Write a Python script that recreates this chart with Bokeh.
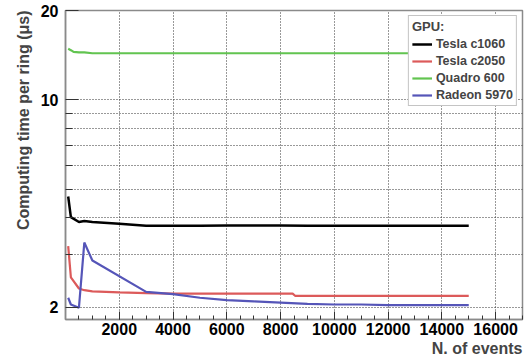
from bokeh.plotting import figure
from bokeh.models import Range1d, FixedTicker, Legend, LegendItem, Title
from bokeh.embed import file_html
from bokeh.resources import INLINE

# ---- data ----
x_c1060 = [100, 200, 500, 700, 1000, 2000, 3000, 4000, 5000, 6000, 7000, 8000, 9000, 10000, 11000, 12000, 13000, 14000, 15000]
y_c1060 = [4.72, 4.02, 3.87, 3.90, 3.87, 3.82, 3.76, 3.76, 3.76, 3.77, 3.77, 3.77, 3.76, 3.76, 3.76, 3.76, 3.76, 3.76, 3.76]

x_c2050 = [100, 200, 500, 700, 1000, 2000, 3000, 4000, 5000, 6000, 7000, 8000, 8450, 8550, 9000, 10000, 11000, 12000, 13000, 14000, 15000]
y_c2050 = [3.21, 2.52, 2.31, 2.28, 2.26, 2.24, 2.23, 2.22, 2.22, 2.22, 2.22, 2.22, 2.22, 2.18, 2.18, 2.18, 2.18, 2.18, 2.18, 2.18, 2.18]

x_q600 = [100, 200, 300, 500, 700, 1000, 2000, 3000, 4000, 5000, 6000, 7000, 8000, 9000, 10000, 11000, 12000, 13000, 14000, 15000]
y_q600 = [14.86, 14.70, 14.50, 14.45, 14.45, 14.35, 14.35, 14.35, 14.35, 14.35, 14.35, 14.35, 14.35, 14.35, 14.35, 14.35, 14.35, 14.35, 14.35, 14.35]

x_r5970 = [100, 200, 500, 700, 1000, 3000, 4000, 5000, 6000, 7000, 8000, 9000, 10000, 11000, 12000, 13000, 14000, 15000]
y_r5970 = [2.15, 2.04, 1.99, 3.30, 2.87, 2.25, 2.21, 2.15, 2.11, 2.09, 2.07, 2.05, 2.04, 2.04, 2.03, 2.03, 2.03, 2.03]

series_names = ["Tesla c1060", "Tesla c2050", "Quadro 600", "Radeon 5970"]
series_colors = ["#000000", "#dc5a5a", "#62c450", "#5555b8"]

x_major = [2000, 4000, 6000, 8000, 10000, 12000, 14000, 16000]
x_minor = list(range(500, 17001, 500))
y_major = [2, 10, 20]
y_minor = [3, 4, 5, 6, 7, 8, 9]

FONT = "Liberation Sans"

p = figure(width=525, height=358, y_axis_type="log",
           x_range=Range1d(0, 17000), y_range=Range1d(1.816, 20),
           output_backend="svg", toolbar_location=None,
           min_border_left=65, min_border_right=3, min_border_top=10, min_border_bottom=39)
p.background_fill_color = "white"
p.border_fill_color = "white"
p.outline_line_color = "#8a8a8a"
p.outline_line_width = 1.5

p.xaxis.ticker = FixedTicker(ticks=x_major, minor_ticks=x_minor)
p.yaxis.ticker = FixedTicker(ticks=y_major, minor_ticks=y_minor)
p.yaxis.major_label_overrides = {2: "2", 10: "10", 20: "20"}

for ax in (p.xaxis, p.yaxis):
    ax.axis_line_color = "#8a8a8a"
    ax.axis_line_width = 1.5
    ax.major_tick_line_color = "#333333"
    ax.minor_tick_line_color = "#333333"
    ax.major_tick_out = 0
    ax.minor_tick_out = 0
    ax.major_label_text_font = FONT
    ax.major_label_text_font_style = "bold"
    ax.major_label_text_font_size = "16px"
    ax.major_label_text_color = "#000000"

p.xaxis.major_tick_in = 8
p.xaxis.minor_tick_in = 4
p.yaxis.major_tick_in = 13
p.yaxis.minor_tick_in = 7
p.xaxis.major_label_standoff = 3
p.yaxis.major_label_standoff = 7

p.xgrid.grid_line_color = "#333333"
p.xgrid.grid_line_dash = "1 2"
p.xgrid.grid_line_width = 1
p.ygrid.grid_line_color = "#333333"
p.ygrid.grid_line_dash = "1 2"
p.ygrid.grid_line_width = 1
p.ygrid.minor_grid_line_color = "#333333"
p.ygrid.minor_grid_line_dash = "1 2"
p.ygrid.minor_grid_line_width = 1

xs = [x_c1060, x_c2050, x_q600, x_r5970]
ys = [y_c1060, y_c2050, y_q600, y_r5970]
items = []
for name, col, xv, yv in zip(series_names, series_colors, xs, ys):
    r = p.line(xv, yv, line_color=col, line_width=2.5 if col == "#000000" else 2.2)
    items.append(LegendItem(label=name, renderers=[r]))

leg = Legend(items=items, location="top_right", title="GPU:")
leg.margin = 5
leg.padding = 3
leg.spacing = 3
leg.label_height = 14
leg.glyph_height = 14
leg.glyph_width = 20
leg.label_standoff = 4
leg.title_standoff = 3
leg.label_text_font = FONT
leg.label_text_font_style = "bold"
leg.label_text_font_size = "12.5px"
leg.title_text_font = FONT
leg.title_text_font_style = "bold"
leg.title_text_font_size = "13px"
leg.border_line_color = "#8a8a8a"
leg.border_line_width = 1.5
leg.background_fill_color = "white"
leg.background_fill_alpha = 1.0
p.add_layout(leg)

xt = Title(text="N. of events", align="right", text_font=FONT, text_font_style="bold",
           text_font_size="16px", standoff=0)
p.add_layout(xt, "below")

yt = Title(text="Computing time per ring (\u03bcs)", align="right", text_font=FONT,
           text_font_style="bold", text_font_size="16px", standoff=12)
p.add_layout(yt, "left")

open("out.html", "w").write(file_html(p, INLINE))
